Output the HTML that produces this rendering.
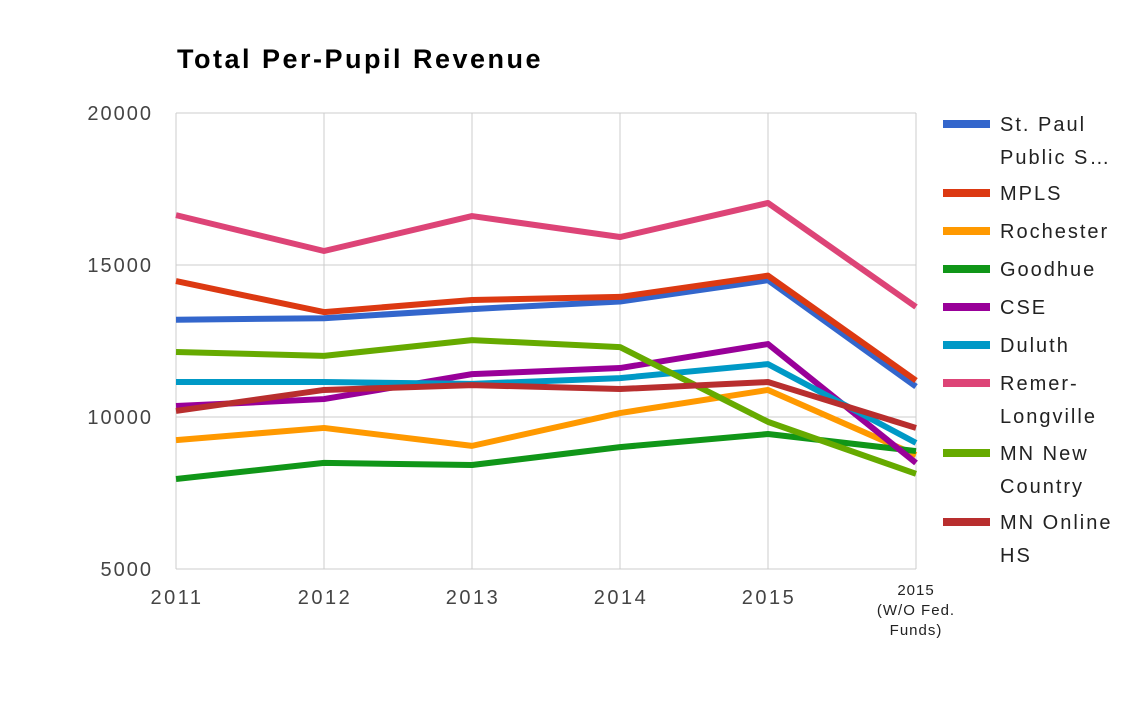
<!DOCTYPE html>
<html><head><meta charset="utf-8"><style>
body{margin:0;background:#fff;font-family:"Liberation Sans",Arial,sans-serif}
</style></head><body>
<svg id="chart" width="1140" height="698" xmlns="http://www.w3.org/2000/svg">
<text x="177" y="68" font-size="27" font-weight="bold" fill="#000" letter-spacing="2.5">Total Per-Pupil Revenue</text>
<g id="grid"></g><g id="lines"></g><g id="ticks"></g><g id="legend"></g>
</svg>
<script>
const categories=["2011","2012","2013","2014","2015","2015 (W/O Fed. Funds)"];
const seriesNames=[["St. Paul","Public S…"],["MPLS"],["Rochester"],["Goodhue"],["CSE"],["Duluth"],["Remer-","Longville"],["MN New","Country"],["MN Online","HS"]];
const stPaul=[13200,13250,13550,13800,14500,11000];
const mpls=[14470,13450,13850,13950,14650,11200];
const rochester=[9240,9640,9050,10130,10890,8750];
const goodhue=[7960,8490,8420,9010,9440,8880];
const cse=[10360,10590,11410,11610,12400,8490];
const duluth=[11150,11150,11090,11280,11740,9150];
const remer=[16640,15460,16610,15920,17040,13620];
const mnNew=[12140,12010,12530,12300,9840,8130];
const mnOnline=[10200,10890,11050,10920,11150,9640];
const yTicks=[5000,10000,15000,20000];
const series=[stPaul,mpls,rochester,goodhue,cse,duluth,remer,mnNew,mnOnline];
const colors=["#3366cc","#dc3912","#ff9900","#109618","#990099","#0099c6","#dd4477","#66aa00","#b82e2e"];
const NS="http://www.w3.org/2000/svg";
const x0=176,x1=916,yb=569,yt=113;
const xs=i=>x0+i*(x1-x0)/(categories.length-1);
const ys=v=>yb-(v-5000)/15000*(yb-yt);
function mk(tag,attrs,parent){const e=document.createElementNS(NS,tag);for(const k in attrs)e.setAttribute(k,attrs[k]);parent.appendChild(e);return e;}
const grid=document.getElementById('grid'),ticks=document.getElementById('ticks'),lines=document.getElementById('lines'),legend=document.getElementById('legend');
yTicks.forEach(t=>{
 const l=mk('line',{x1:x0,x2:x1,y1:ys(t),y2:ys(t),stroke:'#ccc','stroke-width':1},grid);
 
 
 const tx=mk('text',{x:153,y:ys(t)+7,'text-anchor':'end','font-size':20,fill:'#444','letter-spacing':2},ticks);
 tx.textContent=t;
 
 
});
categories.forEach((c,i)=>{
 const l=mk('line',{x1:xs(i),x2:xs(i),y1:yt,y2:yb,stroke:'#ccc','stroke-width':1},grid);
 
 
 if(i<categories.length-1){
  const tx=mk('text',{x:xs(i)+1,y:604,'text-anchor':'middle','font-size':20,fill:'#444','letter-spacing':2.5},ticks);
  tx.textContent=c;
  
  
 } else {
  const parts=["2015","(W/O Fed.","Funds)"];
  parts.forEach((p,j)=>{
   const tx=mk('text',{x:xs(i),y:595+j*20,'text-anchor':'middle','font-size':15,fill:'#222','letter-spacing':1},ticks);
   tx.textContent=p;
   
   
  });
 }
});
series.forEach((s,k)=>{
 const p=mk('polyline',{points:s.map((v,i)=>xs(i)+','+ys(v)).join(' '),fill:'none',stroke:colors[k],'stroke-width':6,'stroke-linejoin':'round'},lines);
 
 
});
const legY=[124,193,231,269,307,345,383,453,522];
seriesNames.forEach((n,k)=>{
 const r=mk('rect',{x:943,y:legY[k]-4,width:47,height:8,fill:colors[k]},legend);
 
 
 n.forEach((line,j)=>{
  const tx=mk('text',{x:1000,y:legY[k]+7+j*33,'font-size':20,fill:'#222','letter-spacing':2},legend);
  tx.textContent=line;
  
  
 });
});
</script>
</body></html>
